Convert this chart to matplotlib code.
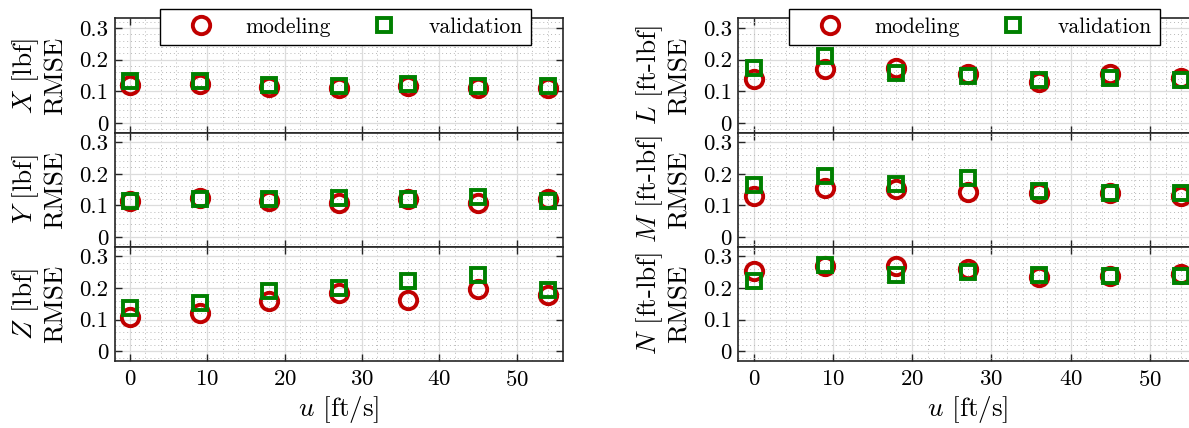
import matplotlib.pyplot as plt
from matplotlib.ticker import MultipleLocator

plt.rcParams['font.family'] = 'serif'
plt.rcParams['font.serif'] = ['cmr10']
plt.rcParams['mathtext.fontset'] = 'cm'
plt.rcParams['axes.formatter.use_mathtext'] = True

# forward speed sweep [ft/s]
u = [0, 9, 18, 27, 36, 45, 54]

# force RMSE [lbf]
X_model = [0.119, 0.122, 0.115, 0.112, 0.117, 0.112, 0.109]
X_valid = [0.133, 0.133, 0.120, 0.117, 0.122, 0.118, 0.118]
Y_model = [0.113, 0.124, 0.115, 0.108, 0.119, 0.108, 0.121]
Y_valid = [0.115, 0.119, 0.120, 0.124, 0.119, 0.126, 0.115]
Z_model = [0.107, 0.121, 0.158, 0.184, 0.163, 0.197, 0.177]
Z_valid = [0.137, 0.152, 0.189, 0.200, 0.223, 0.242, 0.192]

# moment RMSE [ft-lbf]
L_model = [0.139, 0.170, 0.173, 0.155, 0.128, 0.155, 0.141]
L_valid = [0.173, 0.210, 0.157, 0.149, 0.136, 0.141, 0.136]
M_model = [0.129, 0.156, 0.151, 0.142, 0.140, 0.138, 0.129]
M_valid = [0.164, 0.194, 0.167, 0.186, 0.146, 0.138, 0.138]
N_model = [0.253, 0.268, 0.268, 0.258, 0.235, 0.237, 0.245]
N_valid = [0.221, 0.272, 0.242, 0.251, 0.240, 0.237, 0.239]

left_labels = [r'$X$ [lbf]', r'$Y$ [lbf]', r'$Z$ [lbf]']
right_labels = [r'$L$ [ft-lbf]', r'$M$ [ft-lbf]', r'$N$ [ft-lbf]']

red = '#C00000'
green = '#008000'
axcol = '#262626'

fig = plt.figure(figsize=(11.89, 4.28), dpi=100)
gs_l = fig.add_gridspec(3, 1, left=0.0963, right=0.4735, top=0.957, bottom=0.157, hspace=0)
gs_r = fig.add_gridspec(3, 1, left=0.6207, right=1.007, top=0.957, bottom=0.157, hspace=0)


def panel(ax, model, valid, label, bottom, legend):
    ax.plot(u, model, 'o', mfc='none', mec=red, ms=12.5, mew=2.8, label='modeling')
    ax.plot(u, valid, 's', mfc='none', mec=green, ms=9.5, mew=2.8, label='validation')
    ax.set_xlim(-2, 56)
    ax.set_ylim(-0.03, 0.33)
    ax.xaxis.set_major_locator(MultipleLocator(10))
    ax.xaxis.set_minor_locator(MultipleLocator(2))
    ax.yaxis.set_major_locator(MultipleLocator(0.1))
    ax.yaxis.set_minor_locator(MultipleLocator(0.02))
    ax.yaxis.set_major_formatter(plt.FuncFormatter(lambda v, p: '0' if abs(v) < 1e-9 else f'{v:.1f}'))
    ax.grid(which='major', color='#dcdcdc', lw=0.9)
    ax.grid(which='minor', color='#b8b8b8', lw=0.7, ls=(0, (1, 3)))
    ax.set_axisbelow(True)
    ax.tick_params(which='major', direction='in', length=5, width=1.0, color=axcol,
                   top=True, right=True, labelsize=16.5)
    ax.tick_params(axis='y', pad=4.5)
    ax.tick_params(axis='x', pad=6.5)
    ax.tick_params(which='minor', length=0, top=True, right=True)
    for s in ax.spines.values():
        s.set_color(axcol)
        s.set_linewidth(1.2)
    ax.set_ylabel(label + '\nRMSE', fontsize=19.5, labelpad=8, linespacing=1.15)
    if bottom:
        ax.set_xlabel(r'$u$ [ft/s]', fontsize=19.5, labelpad=3)
    else:
        ax.tick_params(labelbottom=False)
    if legend:
        ax.legend(loc='upper center', bbox_to_anchor=(0.515, 1.085), ncol=2, fontsize=15.5,
                  frameon=True, fancybox=False, framealpha=1, edgecolor='black',
                  borderpad=0.4, borderaxespad=0, handlelength=3.0, handletextpad=0.55,
                  columnspacing=1.0).get_frame().set_linewidth(1.0)


for i, (m, v, lab) in enumerate(zip([X_model, Y_model, Z_model], [X_valid, Y_valid, Z_valid], left_labels)):
    panel(fig.add_subplot(gs_l[i]), m, v, lab, i == 2, i == 0)

for i, (m, v, lab) in enumerate(zip([L_model, M_model, N_model], [L_valid, M_valid, N_valid], right_labels)):
    panel(fig.add_subplot(gs_r[i]), m, v, lab, i == 2, i == 0)

fig.savefig('out.png', dpi=100)
